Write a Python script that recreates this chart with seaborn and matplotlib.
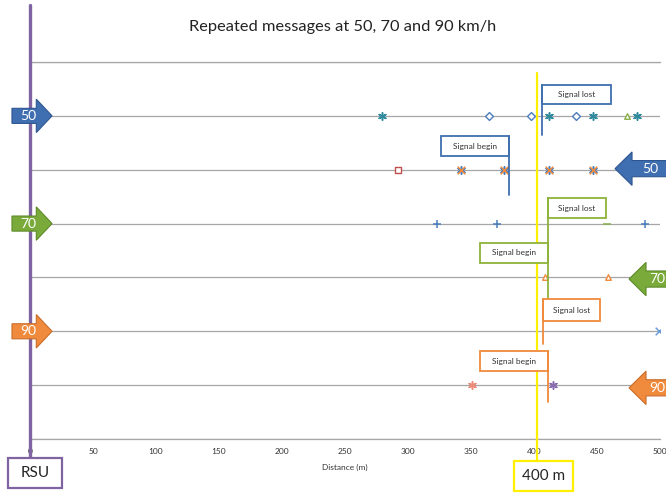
import matplotlib
matplotlib.use("Agg")
import matplotlib.pyplot as plt
import seaborn as sns
import pandas as pd
from matplotlib.patches import FancyArrow, Rectangle

# Distances (m), one list per marker series
fwd50_star = [279, 412, 447, 482]
fwd50_diamond = [364, 398, 433]
fwd50_triangle = [474]
back50_square = [292]
back50_cross = [342, 376, 412, 447]
fwd70_plus = [323, 371, 488]
fwd70_dash = [458]
back70_triangle = [409, 459]
fwd90_x = [499]
back90_star = [351, 415]

# Row of each run on the chart (top to bottom)
row_names = ["50 fwd", "50 back", "70 fwd", "70 back", "90 fwd", "90 back"]
row_levels = [6, 5, 4, 3, 2, 1]

x_ticks = [0, 50, 100, 150, 200, 250, 300, 350, 400, 450, 500]
rsu_distance = 0
limit_distance = 402

BLUE = "#3F6FB0"
GREEN = "#7AAA3A"
ORANGE = "#F08A3C"
PURPLE = "#8064A2"
YELLOW = "#FFF000"
GRID = "#A6A6A6"

sns.set_theme(style="white")
plt.rcParams["font.family"] = ["Lato", "DejaVu Sans"]

fig = plt.figure(figsize=(6.66, 4.95), dpi=100)
ax = fig.add_axes([30 / 666, 56 / 495, 630 / 666, 377 / 495])
ax.set_xlim(0, 500)
ax.set_ylim(0, 7)

rows = dict(zip(row_names, row_levels))


def points(values, row):
    return pd.DataFrame({"distance": values, "level": [rows[row]] * len(values)})


asterisk = (6, 2, 0)
series = [
    (fwd50_star, "50 fwd", asterisk, "#2F8A9E", True),
    (fwd50_diamond, "50 fwd", "D", "#4A7EBB", False),
    (fwd50_triangle, "50 fwd", "^", "#8AB04A", False),
    (back50_square, "50 back", "s", "#C0504D", False),
    (back50_cross, "50 back", asterisk, "#4A7EBB", True),
    (back50_cross, "50 back", "x", ORANGE, True),
    (fwd70_plus, "70 fwd", "+", "#4A7EBB", True),
    (fwd70_dash, "70 fwd", "_", "#8AB04A", True),
    (back70_triangle, "70 back", "^", ORANGE, False),
    (fwd90_x, "90 fwd", "x", "#6D9EDB", True),
    (back90_star[:1], "90 back", asterisk, "#EE8A7A", True),
    (back90_star[1:], "90 back", asterisk, "#8A6BB0", True),
]
for values, row, marker, color, line_marker in series:
    df = points(values, row)
    if line_marker:
        sns.scatterplot(data=df, x="distance", y="level", ax=ax, marker=marker,
                        color=color, s=30, linewidth=1.1, zorder=4)
    else:
        sns.scatterplot(data=df, x="distance", y="level", ax=ax, marker=marker,
                        facecolor="white", edgecolor=color, s=16, linewidth=1.0, zorder=4)

# Axes styling
ax.set_yticks(range(0, 8))
ax.set_yticklabels([])
ax.grid(axis="y", color=GRID, linewidth=0.9)
ax.grid(axis="x", visible=False)
for side in ["left", "right"]:
    ax.spines[side].set_visible(False)
for side in ["top", "bottom"]:
    ax.spines[side].set_color(GRID)
    ax.spines[side].set_linewidth(0.9)
ax.set_xticks(x_ticks)
ax.tick_params(axis="x", length=0, pad=6.5, labelsize=6, colors="#333333")
ax.tick_params(axis="y", length=0)
ax.set_xlabel("Distance (m)", fontsize=6, color="#333333", labelpad=6)
ax.set_ylabel("")

fig.text(343 / 666, 1 - 27 / 495, "Repeated messages at 50, 70 and 90 km/h",
         ha="center", va="center", fontsize=11.8, color="#222222")

# RSU and 400 m markers
ax.plot([rsu_distance, rsu_distance], [8.06, -0.35], color=PURPLE, linewidth=2.4,
        clip_on=False, zorder=5)
ax.add_patch(Rectangle((-17.5, -0.91), 42.9, 0.56, facecolor="white", edgecolor=PURPLE,
                       linewidth=1.6, clip_on=False, zorder=5))
ax.text(4, -0.63, "RSU", ha="center", va="center", fontsize=11, zorder=6)

ax.plot([limit_distance, limit_distance], [6.80, -0.41], color=YELLOW, linewidth=1.6,
        clip_on=False, zorder=3)
ax.add_patch(Rectangle((384, -0.97), 47, 0.56, facecolor="white", edgecolor=YELLOW,
                       linewidth=1.6, clip_on=False, zorder=5))
ax.text(407.5, -0.69, "400 m", ha="center", va="center", fontsize=11, zorder=6)

# Direction arrows with speed labels
left_arrows = [(6, BLUE, "#2E5590", "50"), (4, GREEN, "#5E8A2A", "70"), (2, ORANGE, "#C86E2A", "90")]
for level, color, edge, label in left_arrows:
    ax.add_patch(FancyArrow(-14.3, level, 31.8, 0, width=0.28, head_width=0.62,
                            head_length=12.5, length_includes_head=True, facecolor=color,
                            edgecolor=edge, linewidth=0.8, clip_on=False, zorder=6))
    ax.text(-1.6, level, label, ha="center", va="center", color="white",
            fontsize=10, zorder=7, clip_on=False)

right_arrows = [(5.02, BLUE, "#2E5590", "50", 464.3), (2.97, GREEN, "#5E8A2A", "70", 475.4),
                (0.95, ORANGE, "#C86E2A", "90", 475.4)]
for level, color, edge, label, tip in right_arrows:
    ax.add_patch(FancyArrow(506, level, tip - 506, 0, width=0.3, head_width=0.62,
                            head_length=13.5, length_includes_head=True, facecolor=color,
                            edgecolor=edge, linewidth=0.8, clip_on=False, zorder=6))
    ax.text(tip + 13.5 + (506 - tip - 13.5) / 2, level, label, ha="center", va="center",
            color="white", fontsize=10, zorder=7, clip_on=False)

# Signal callouts: (box x0, box x1, box y0, box y1, line x, line y0, line y1, text, colour)
callouts = [
    (406, 461, 6.22, 6.57, 406, 6.57, 5.64, "Signal lost", BLUE),
    (326, 380, 5.25, 5.63, 380, 5.63, 4.53, "Signal begin", BLUE),
    (411, 457, 4.10, 4.47, 411, 4.47, 3.51, "Signal lost", "#8DB33A"),
    (357, 411, 3.27, 3.64, 411, 3.64, 2.62, "Signal begin", "#8DB33A"),
    (407, 452, 2.19, 2.60, 407, 2.60, 1.76, "Signal lost", ORANGE),
    (357, 411, 1.26, 1.63, 411, 1.63, 0.69, "Signal begin", ORANGE),
]
for x0, x1, y0, y1, lx, ly0, ly1, text, color in callouts:
    ax.add_patch(Rectangle((x0, y0), x1 - x0, y1 - y0, facecolor="white",
                           edgecolor=color, linewidth=1.3, zorder=5))
    ax.plot([lx, lx], [ly0, ly1], color=color, linewidth=1.3, zorder=5)
    ax.text((x0 + x1) / 2, (y0 + y1) / 2, text, ha="center", va="center",
            fontsize=6, color="#333333", zorder=6)

fig.savefig("out.png", dpi=100)
